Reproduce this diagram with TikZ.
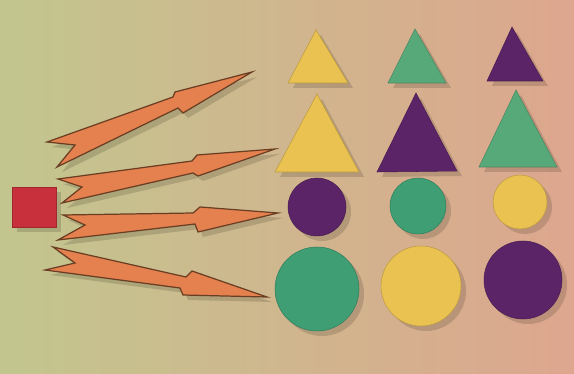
\documentclass[tikz,border=0pt]{standalone}
\usepackage{xcolor}
\definecolor{bgleft}{HTML}{C2C68E}
\definecolor{bgright}{HTML}{DDA68E}
\definecolor{boltorange}{HTML}{E5804F}
\definecolor{boltedge}{HTML}{6A3E22}
\definecolor{cardred}{HTML}{C8303C}
\definecolor{cardyellow}{HTML}{EAC251}
\definecolor{cardgreen}{HTML}{3F9E74}
\definecolor{cardgreenlight}{HTML}{58A979}
\definecolor{cardpurple}{HTML}{5B2467}

\begin{document}
\begin{tikzpicture}[x=0.02cm,y=-0.02cm,
  piece/.style={fill=#1,draw=#1!80!black,line width=0.3pt},
  drop/.style={shift={(5,5)},fill=black,opacity=0.14},
  bolt/.style={fill=boltorange,draw=boltedge,line width=0.7pt,line join=miter}
]
  \useasboundingbox (0,0) rectangle (574,374);
  \shade[left color=bgleft,right color=bgright] (0,0) rectangle (574,374);

  % red square
  \fill[drop] (12,187) rectangle (56,227);
  \fill[piece=cardred] (12,187) rectangle (56,227);

  % lightning arrows
  \fill[drop] (47,142) -- (75,145) -- (57,167) -- (178,108) -- (183,113) -- (252,72) -- (175,92) -- (173,97) -- cycle;
  \draw[bolt] (47,142) -- (75,145) -- (57,167) -- (178,108) -- (183,113) -- (252,72) -- (175,92) -- (173,97) -- cycle;
  \fill[drop] (58,179) -- (82,187) -- (62,203) -- (193,173) -- (198,176) -- (275,149) -- (197,155) -- (192,161) -- cycle;
  \draw[bolt] (58,179) -- (82,187) -- (62,203) -- (193,173) -- (198,176) -- (275,149) -- (197,155) -- (192,161) -- cycle;
  \fill[drop] (63,215) -- (85,225) -- (58,240) -- (195,224) -- (198,232) -- (278,213) -- (200,207) -- (193,213) -- cycle;
  \draw[bolt] (63,215) -- (85,225) -- (58,240) -- (195,224) -- (198,232) -- (278,213) -- (200,207) -- (193,213) -- cycle;
  \fill[drop] (53,247) -- (75,263) -- (45,270) -- (180,288) -- (183,295) -- (267,297) -- (192,271) -- (186,277) -- cycle;
  \draw[bolt] (53,247) -- (75,263) -- (45,270) -- (180,288) -- (183,295) -- (267,297) -- (192,271) -- (186,277) -- cycle;

  % small triangles
  \fill[drop] (316,30) -- (348,83) -- (288,83) -- cycle;
  \fill[piece=cardyellow] (316,30) -- (348,83) -- (288,83) -- cycle;
  \fill[drop] (415,29) -- (446,83) -- (388,83) -- cycle;
  \fill[piece=cardgreenlight] (415,29) -- (446,83) -- (388,83) -- cycle;
  \fill[drop] (512,27) -- (543,81) -- (487,81) -- cycle;
  \fill[piece=cardpurple] (512,27) -- (543,81) -- (487,81) -- cycle;

  % large triangles
  \fill[drop] (317,94) -- (359,172) -- (275,172) -- cycle;
  \fill[piece=cardyellow] (317,94) -- (359,172) -- (275,172) -- cycle;
  \fill[drop] (416,93) -- (457,171) -- (377,172) -- cycle;
  \fill[piece=cardpurple] (416,93) -- (457,171) -- (377,172) -- cycle;
  \fill[drop] (516,90) -- (557,167) -- (479,167) -- cycle;
  \fill[piece=cardgreenlight] (516,90) -- (557,167) -- (479,167) -- cycle;

  % small circles
  \fill[drop] (317,207) circle (29);
  \fill[piece=cardpurple] (317,207) circle (29);
  \fill[drop] (418,206) circle (28);
  \fill[piece=cardgreen] (418,206) circle (28);
  \fill[drop] (520,202) circle (27);
  \fill[piece=cardyellow] (520,202) circle (27);

  % large circles
  \fill[drop] (317,289) circle (42);
  \fill[piece=cardgreen] (317,289) circle (42);
  \fill[drop] (421,286) circle (40);
  \fill[piece=cardyellow] (421,286) circle (40);
  \fill[drop] (523,280) circle (39);
  \fill[piece=cardpurple] (523,280) circle (39);
\end{tikzpicture}
\end{document}
